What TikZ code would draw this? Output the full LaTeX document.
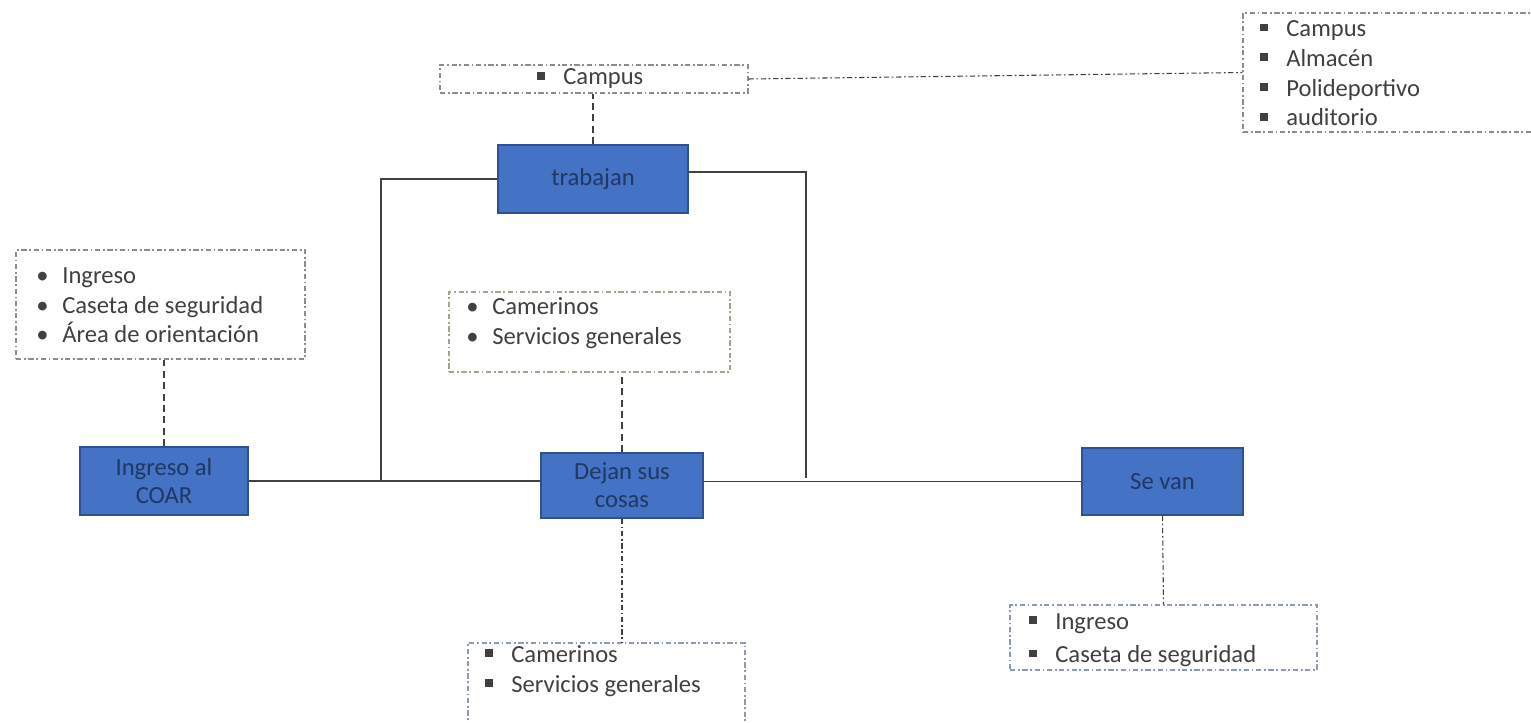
\documentclass[tikz,border=0pt]{standalone}
\usepackage{fontspec}
\setmainfont{Carlito}
\usetikzlibrary{positioning}
\definecolor{boxblue}{HTML}{4472C4}
\definecolor{boxedge}{HTML}{2F528F}
\definecolor{boxtext}{HTML}{1F3864}
\definecolor{listgray}{HTML}{404040}
\definecolor{framegray}{HTML}{8C8C8C}
\definecolor{frameolive}{HTML}{A4A48C}
\definecolor{frameblue}{HTML}{8C9AB4}
\newlength\pxu
\setlength\pxu{0.02cm}
\newcommand{\itm}[1]{\makebox[26\pxu][l]{#1}}
\newcommand{\sqb}{\rule[0.22em]{0.3em}{0.3em}}
\tikzstyle{stepbox}=[draw=boxedge, fill=boxblue, line width=0.8pt,
	text=boxtext, font=\fontsize{14}{16}\selectfont, align=center, inner sep=0pt]
\tikzstyle{listframe}=[draw=framegray, line width=0.6pt,
	dash pattern=on 3pt off 1.5pt on 1pt off 1.5pt, inner sep=0pt]
\tikzstyle{listtext}=[text=listgray, font=\fontsize{14}{17}\selectfont,
	align=left, inner sep=0pt, anchor=north west]
\tikzstyle{mainline}=[draw=listgray, line width=0.9pt]
\tikzstyle{dashline}=[draw=listgray, line width=0.8pt, dash pattern=on 4pt off 2.5pt]
\tikzstyle{dotline}=[draw=listgray, line width=0.6pt, dash pattern=on 3pt off 1.5pt on 1pt off 1.5pt]

\begin{document}
\begin{tikzpicture}[x=0.02cm, y=-0.02cm]
	% Background, frame
	\useasboundingbox (0,0) rectangle (1531,723);

	% % Steps
	\node[stepbox, minimum width=168*\pxu, minimum height=68*\pxu] (coar) at (164,481) {Ingreso al\\COAR};
	\node[stepbox, minimum width=190*\pxu, minimum height=68*\pxu] (trabajan) at (593,179) {trabajan};
	\node[stepbox, minimum width=162*\pxu, minimum height=65*\pxu] (dejan) at (622,485.5) {Dejan sus\\cosas};
	\node[stepbox, minimum width=161*\pxu, minimum height=67*\pxu] (sevan) at (1162.5,481.5) {Se van};

	% % Frames
	\node[listframe, minimum width=308*\pxu, minimum height=28*\pxu] (campusbox) at (594,79) {};
	\node[listframe, minimum width=297*\pxu, minimum height=119*\pxu] (bigbox) at (1391.5,72.5) {};
	\node[listframe, minimum width=289*\pxu, minimum height=109*\pxu] (leftbox) at (160.5,304.5) {};
	\node[listframe, draw=frameolive, minimum width=281*\pxu, minimum height=80*\pxu] (midbox) at (589.5,332) {};
	\node[listframe, draw=frameblue, minimum width=277*\pxu, minimum height=92*\pxu] (lowbox) at (606.5,689) {};
	\node[listframe, draw=frameblue, minimum width=307*\pxu, minimum height=65*\pxu] (rightbox) at (1163.5,637.5) {};

	% % Lists
	\node[listtext, anchor=west] (campuslist) at (537,79) {\itm{\sqb}Campus};
	\node[listtext] (biglist) at (1260,20) {\itm{\sqb}Campus\\ \itm{\sqb}Almacén\\ \itm{\sqb}Polideportivo\\ \itm{\sqb}auditorio};
	\node[listtext] (leftlist) at (36,267) {\itm{\textbullet}Ingreso\\ \itm{\textbullet}Caseta de seguridad\\ \itm{\textbullet}Área de orientación};
	\node[listtext] (midlist) at (466,297) {\itm{\textbullet}Camerinos\\ \itm{\textbullet}Servicios generales};
	\node[listtext] (lowlist) at (485,645) {\itm{\sqb}Camerinos\\ \itm{\sqb}Servicios generales};
	\node[listtext, font=\fontsize{14}{19}\selectfont] (rightlist) at (1029,613) {\itm{\sqb}Ingreso\\ \itm{\sqb}Caseta de seguridad};

	% % Lines
	\coordinate (jl) at (381,481);
	\coordinate (jr) at (806,478);
	\draw[mainline] (coar.east) -- (coar.east -| dejan.west);
	\draw[mainline] (dejan.east |- sevan.west) -- (sevan.west);
	\draw[mainline] (trabajan.west) -| (jl);
	\draw[mainline] (trabajan.east |- 0,172) -| (jr);
	\draw[dashline] (trabajan.north) -- (trabajan.north |- campusbox.south);
	\draw[dotline] (campusbox.east) -- (bigbox.west);
	\draw[dashline] (coar.north) -- (coar.north |- leftbox.south);
	\draw[dashline] (dejan.north) -- (dejan.north |- midbox.south);
	\draw[dotline] (dejan.south) -- (dejan.south |- lowbox.north);
	\draw[dotline] (sevan.south) -- (rightbox.north);
\end{tikzpicture}
\end{document}
